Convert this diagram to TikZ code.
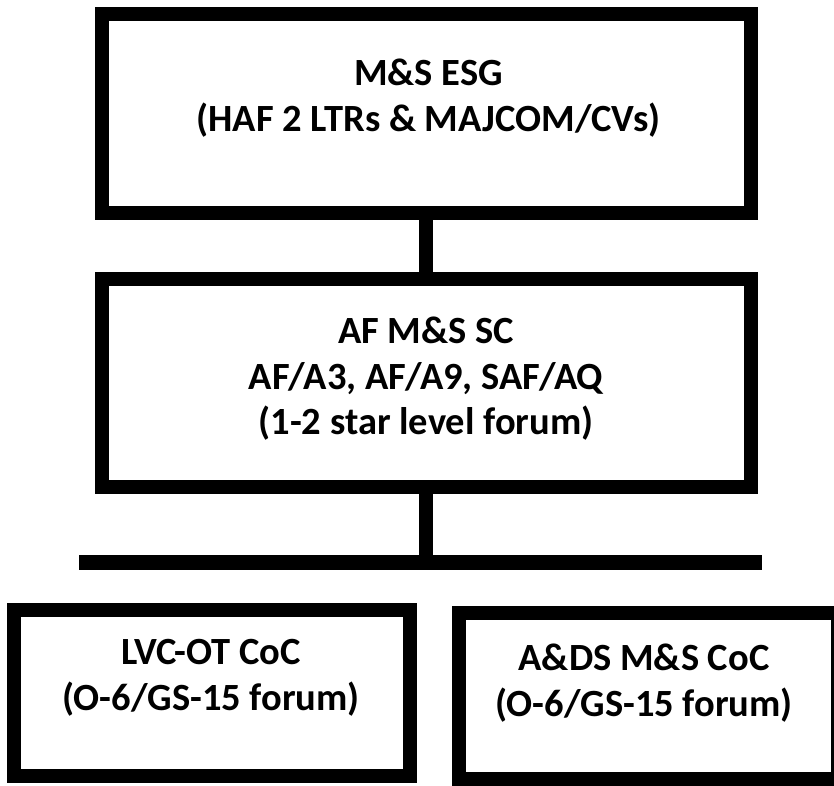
\documentclass[tikz,border=0pt]{standalone}
\usepackage{fontspec}
\setmainfont{Carlito}
\begin{document}
\begin{tikzpicture}[x=1pt,y=1pt,
  box/.style={draw=black, line width=14pt, fill=white, inner sep=0pt, rectangle},
  lbl/.style={align=center, inner sep=0pt, font=\fontsize{38.5}{45.5}\selectfont\bfseries},
  conn/.style={draw=black, line width=14pt}]
\useasboundingbox (0,0) rectangle (834,785);
\node[box, minimum width=648.8pt, minimum height=198.7pt] (esg) at (426.4,671.35) {};
\node[box, minimum width=648.8pt, minimum height=207.7pt] (sc) at (426.4,401.85) {};
\node[box, minimum width=396.6pt, minimum height=166.6pt] (lvc) at (212,92) {};
\node[box, minimum width=379.3pt, minimum height=165.7pt] (ads) at (648.35,89.15) {};
\coordinate (barL) at (79,222.5);
\coordinate (barR) at (762.3,222.5);
\draw[line width=15pt] (barL) -- (barR);
\draw[conn] (esg.south) -- (sc.north);
\draw[conn] (sc.south) -- (sc.south |- barL);
\node[lbl] (tesg) at (428.5,687) {M\&S ESG\\(HAF 2 LTRs \& MAJCOM/CVs)};
\node[lbl] (tsc) at (426,406) {AF M\&S SC\\AF/A3, AF/A9, SAF/AQ\\(1-2 star level forum)};
\node[lbl] (tlvc) at (211,107) {LVC-OT CoC\\(O-6/GS-15 forum)};
\node[lbl] (tads) at (644,102) {A\&DS M\&S CoC\\(O-6/GS-15 forum)};
\end{tikzpicture}
\end{document}
